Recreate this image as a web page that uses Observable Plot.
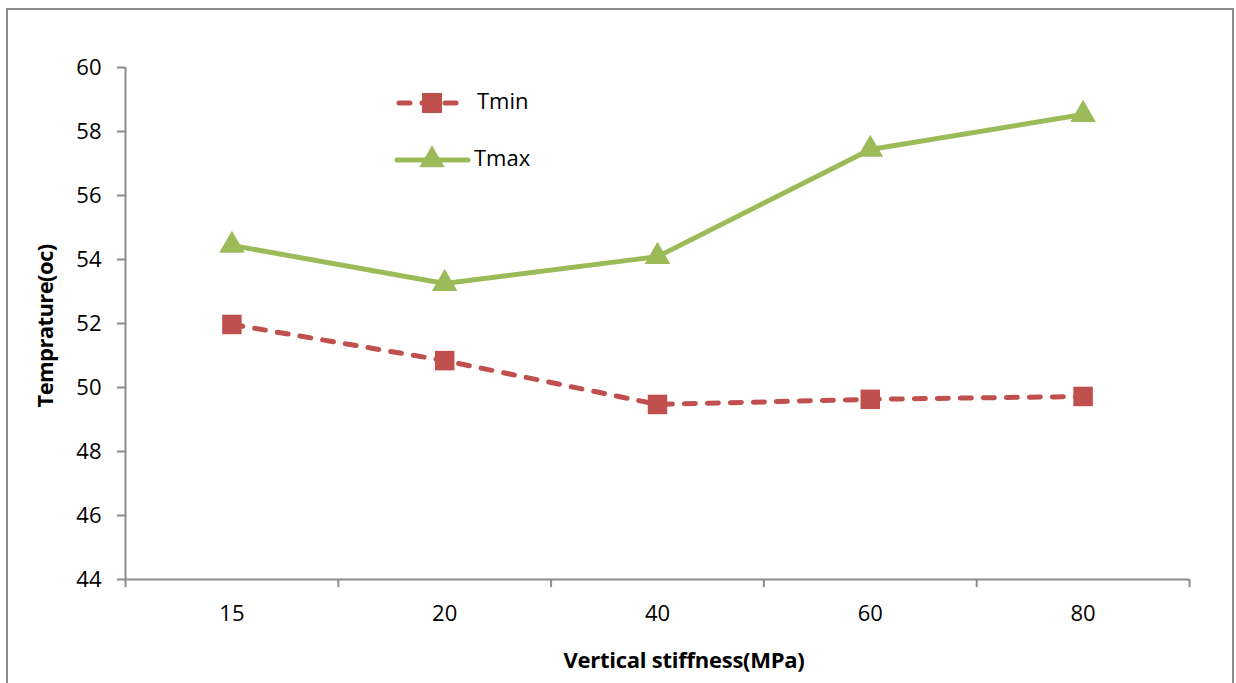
<!DOCTYPE html>
<html>
<head>
<meta charset="utf-8">
<script src="https://cdn.jsdelivr.net/npm/d3@7"></script>
<script src="https://cdn.jsdelivr.net/npm/@observablehq/plot@0.6"></script>
<style>
  html, body { margin: 0; padding: 0; background: #fff; }
  #frame { position: absolute; left: 6px; top: 8px; width: 1228px; height: 690px; border: 2px solid #8c8c8c; box-sizing: border-box; }
  #chart { position: absolute; left: 0; top: 0; }
  #legend { position: absolute; left: 0; top: 0; }
  text { font-family: "Open Sans", sans-serif; }
</style>
</head>
<body>
<div id="frame"></div>
<div id="chart"></div>
<svg id="legend" width="1236" height="683"></svg>
<script>
const categories = ["15", "20", "40", "60", "80"];
const tmin = [51.97, 50.84, 49.47, 49.63, 49.72];
const tmax = [54.44, 53.25, 54.09, 57.44, 58.53];
const yTicks = [44, 46, 48, 50, 52, 54, 56, 58, 60];
const seriesNames = ["Tmin", "Tmax"];
const colors = { Tmin: "#C0504D", Tmax: "#9BBB59" };

const rows = [];
categories.forEach((c, i) => {
  rows.push({ series: "Tmin", xi: i + 0.5, cat: c, value: tmin[i] });
  rows.push({ series: "Tmax", xi: i + 0.5, cat: c, value: tmax[i] });
});
const minRows = rows.filter(d => d.series === "Tmin");
const maxRows = rows.filter(d => d.series === "Tmax");
const boundaries = d3.range(0, categories.length + 1);
const centers = categories.map((c, i) => i + 0.5);

const axisColor = "#8c8c8c";
const fontSize = 22;
const dash = "11,12";

const chart = Plot.plot({
  width: 1236,
  height: 683,
  marginLeft: 125,
  marginRight: 47,
  marginTop: 67,
  marginBottom: 104,
  style: { fontFamily: "'Open Sans', sans-serif", fontSize: fontSize + "px", background: "transparent" },
  x: { type: "linear", domain: [0, categories.length], label: null },
  y: { domain: [44, 60], label: null },
  marks: [
    Plot.axisX({ ticks: boundaries, tickSize: 8, tickFormat: () => "", stroke: axisColor, strokeWidth: 2, label: null }),
    Plot.axisX({ ticks: centers, tickSize: 0, tickPadding: 26, tickFormat: v => categories[Math.round(v - 0.5)], fill: "#000", fontSize: fontSize, label: null }),
    Plot.axisY({ ticks: yTicks, tickSize: 8, tickPadding: 16, stroke: axisColor, strokeWidth: 2, fill: "#000", fontSize: fontSize, label: null }),
    Plot.ruleY([44], { stroke: axisColor, strokeWidth: 2 }),
    Plot.ruleX([0], { stroke: axisColor, strokeWidth: 2 }),
    Plot.line(minRows, { x: "xi", y: "value", stroke: colors.Tmin, strokeWidth: 5, strokeDasharray: dash, strokeLinecap: "round" }),
    Plot.line(maxRows, { x: "xi", y: "value", stroke: colors.Tmax, strokeWidth: 5 }),
    Plot.dot(minRows, { x: "xi", y: "value", symbol: "square", r: 11, fill: colors.Tmin, stroke: null }),
    Plot.dot(maxRows, { x: "xi", y: "value", symbol: "triangle", r: 9.5, fill: colors.Tmax, stroke: null })
  ]
});
document.getElementById("chart").appendChild(chart);

const svg = d3.select(chart);
svg.append("text")
  .attr("x", 684).attr("y", 662)
  .attr("text-anchor", "middle").attr("dominant-baseline", "middle")
  .attr("font-weight", "bold").attr("font-size", 22)
  .attr("font-family", "'Open Sans', sans-serif")
  .attr("letter-spacing", "-0.25")
  .text("Vertical stiffness(MPa)");
svg.append("text")
  .attr("transform", "translate(47,326) rotate(-90)")
  .attr("text-anchor", "middle").attr("dominant-baseline", "middle")
  .attr("font-weight", "bold").attr("font-size", 22)
  .attr("font-family", "'Open Sans', sans-serif")
  .attr("letter-spacing", "-0.6")
  .text("Temprature(oc)");

const lg = d3.select("#legend");
const legendRows = [
  { name: seriesNames[0], y: 103, x1: 399, x2: 460, dash: dash, sym: d3.symbolSquare, size: 400, tx: 477 },
  { name: seriesNames[1], y: 160, x1: 397, x2: 468, dash: null, sym: d3.symbolTriangle, size: 280, tx: 474 }
];
legendRows.forEach(r => {
  const g = lg.append("g");
  g.append("line").attr("x1", r.x1).attr("x2", r.x2).attr("y1", r.y).attr("y2", r.y)
    .attr("stroke", colors[r.name]).attr("stroke-width", 5)
    .attr("stroke-linecap", "round")
    .attr("stroke-dasharray", r.dash);
  g.append("path").attr("d", d3.symbol(r.sym, r.size)())
    .attr("transform", `translate(432,${r.y})`).attr("fill", colors[r.name]);
  g.append("text").attr("x", r.tx).attr("y", r.y)
    .attr("dominant-baseline", "middle").attr("font-size", fontSize)
    .attr("font-family", "'Open Sans', sans-serif")
    .text(r.name);
});
</script>
</body>
</html>
